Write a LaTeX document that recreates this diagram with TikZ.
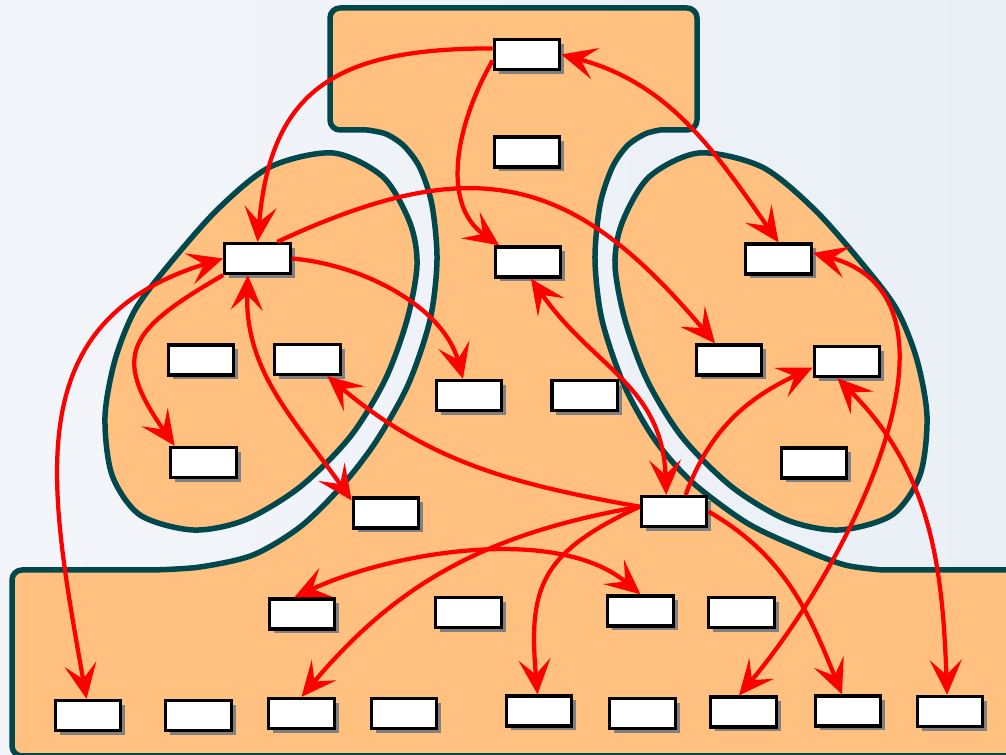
\documentclass[tikz,border=0pt]{standalone}
\usetikzlibrary{arrows.meta,shadows}
\definecolor{paleLeft}{RGB}{243,245,250}
\definecolor{paleRight}{RGB}{234,239,246}
\definecolor{sandOrange}{RGB}{255,192,128}
\definecolor{deepTeal}{RGB}{0,72,76}
\begin{document}
\begin{tikzpicture}
[x=0.2mm, y=0.2mm,
  >={Stealth[length=7mm, width=6.4mm, inset=3mm]},
  regionDecorate/.style={fill=sandOrange, draw=deepTeal, line width=1.1mm, line join=round},%
  boxDecorate/.style={shape=rectangle, draw=black, fill=white, line width=0.65mm,
    minimum width=13.1mm, minimum height=6mm, inner sep=0pt,
    drop shadow={shadow xshift=0.9mm, shadow yshift=-0.9mm, fill=black!50, opacity=1}},
  oneWay/.style={->, draw=red, line width=0.85mm},
  twoWay/.style={<->, draw=red, line width=0.85mm}]
\shade[left color=paleLeft, right color=paleRight, use as bounding box] (0,0) rectangle (1006,755);
%% regions
\draw[regionDecorate]
  (1040,-1) -- (22,-1) arc[start angle=270, end angle=180, radius=10]
  -- (12,175) arc[start angle=180, end angle=90, radius=10]
  -- plot[smooth] coordinates {(153,185) (200,188) (253,200) (300,228) (340,267) (375,312)
     (408,370) (430,435) (437,495) (432,550) (420,587) (404,609) (386,621) (367,625)}
  -- (340,625) arc[start angle=270, end angle=180, radius=10]
  -- (330,737) arc[start angle=180, end angle=90, radius=10]
  -- (687,747) arc[start angle=90, end angle=0, radius=10]
  -- (697,635) arc[start angle=0, end angle=-90, radius=10]
  -- plot[smooth] coordinates {(660,625) (645,621) (627,609) (612,587) (600,550) (595,495)
     (602,435) (624,370) (655,315) (692,273) (747,232) (800,207) (845,190) (883,185)}
  -- (1040,185) -- cycle;
\draw[regionDecorate] plot[smooth cycle] coordinates {(333,602) (383,578) (410,532) (417,490)
  (407,435) (385,375) (350,318) (300,268) (245,235) (193,225) (140,240) (112,280) (105,338)
  (115,395) (135,445) (167,488) (217,545) (270,588)};
\draw[regionDecorate] plot[smooth cycle] coordinates {(699,602) (649,578) (622,532) (615,490)
  (625,435) (647,375) (682,318) (732,268) (787,235) (839,225) (892,240) (920,280) (927,338)
  (917,395) (897,445) (865,488) (815,545) (762,588)};
%% boxes
\foreach \nodename/\x/\y in {
  top1/527/700.5, top2/527/603, mid1/528/493,
  lft1/257.5/496.5, lft2/201/395, lft3/307.5/395.5, lft4/203.5/292.5,
  cen1/469/359.5, cen2/584.7/359.5, cen3/386/242, hub/674/243.5,
  rgt1/778.5/496, rgt2/729/395, rgt3/847/393.5, rgt4/814/292,
  low1/302/141, low2/468.5/142.5, low3/640.5/144, low4/741.5/142.5,
  bot1/88/39.5, bot2/198.5/39.5, bot3/301.5/41.5, bot4/404/41.5, bot5/539/44,
  bot6/642.5/41.5, bot7/743.5/43, bot8/848/44, bot9/950/43.5}
{
  \node (\nodename) at (\x,\y) [boxDecorate] {};
}
%% one-way arrows
\path
\foreach \startnode/\endnode/\outangle/\inangle/\loose in {
  top1.170/lft1.north/180/85/1.3, top1.190/mid1.150/240/145/1,
  lft1.40/rgt2.130/25/130/1.25, lft1.east/cen1.110/-5/105/0.9,
  lft1.south west/lft4.150/210/125/1.6, hub.172/lft3.-40/170/-40/1,
  hub.55/rgt3.190/70/205/1, hub.172/bot3.north/190/50/1,
  hub.172/bot5.95/205/95/1.3, hub.east/bot8.110/-30/112/1}
{
  (\startnode) edge[oneWay, out=\outangle, in=\inangle, looseness=\loose] (\endnode)
};
%% two-way arrows
\path
\foreach \startnode/\endnode/\outangle/\inangle/\loose in {
  top1.east/rgt1.north/-15/125/1, lft1.240/cen3.160/268/125/1,
  lft1.west/bot1.95/197/100/1.2, mid1.-80/hub.115/-55/92/1.1,
  low1.115/low3.north/25/140/0.8, rgt1.10/bot7.105/-15/50/1,
  rgt3.240/bot9.100/-45/92/1}
{
  (\startnode) edge[twoWay, out=\outangle, in=\inangle, looseness=\loose] (\endnode)
};
\end{tikzpicture}
\end{document}
